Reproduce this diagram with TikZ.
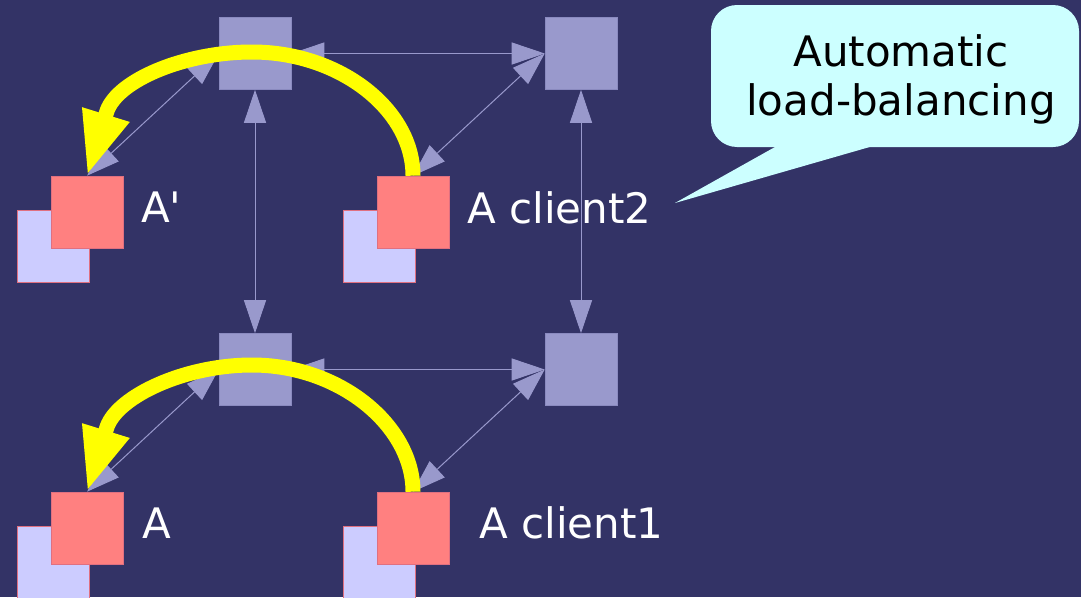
\documentclass[tikz,border=0pt]{standalone}
\usepackage{fontspec}
\newfontfamily\labelfont{DejaVu Sans}
\usetikzlibrary{arrows.meta}

\definecolor{slide}{HTML}{333366}
\definecolor{gridgrey}{HTML}{9999CC}
\definecolor{gridedge}{HTML}{8A8ABF}
\definecolor{replicared}{HTML}{FF8080}
\definecolor{replicaedge}{HTML}{E07080}
\definecolor{shadowlav}{HTML}{CCCCFF}
\definecolor{calloutcyan}{HTML}{CCFFFF}
\definecolor{moveyellow}{HTML}{FFFF00}

\begin{document}
\begin{tikzpicture}[x=1pt,y=-1pt,
  server/.style={rectangle, fill=gridgrey, draw=gridedge, line width=0.6pt,
                 minimum size=72pt, inner sep=0pt},
  replica/.style={rectangle, fill=replicared, draw=replicaedge, line width=0.6pt,
                  minimum size=72pt, inner sep=0pt},
  backup/.style={rectangle, fill=shadowlav, draw=replicaedge, line width=0.6pt,
                 minimum size=72pt, inner sep=0pt},
  link/.style={draw=gridgrey, line width=1pt,
               {Triangle[length=33pt,width=22pt]}-{Triangle[length=33pt,width=22pt]}},
  migrate/.style={draw=moveyellow, line width=15pt,
                  -{Triangle[length=64pt,width=45pt]}},
  nametext/.style={text=white, font=\labelfont\fontsize{42}{49}\selectfont,
                   anchor=base west, inner sep=0pt}]

% slide background
\fill[slide] (0,0) rectangle (1081,597);
\useasboundingbox (0,0) rectangle (1081,597);

% backup copies behind each replica
\node[backup] (b1) at (53.5,246) {};
\node[backup] (b2) at (379,246) {};
\node[backup] (b3) at (53.5,562) {};
\node[backup] (b4) at (379,562) {};

% replicas
\node[replica] (r1) at (87,212) {};
\node[replica] (r2) at (413,212) {};
\node[replica] (r3) at (87,528) {};
\node[replica] (r4) at (413,528) {};

% grid of servers
\node[server] (g1) at (255,53.5) {};
\node[server] (g2) at (581,53.5) {};
\node[server] (g3) at (255,369.5) {};
\node[server] (g4) at (581,369.5) {};

% links between servers
\draw[link] (g1.east) -- (g2.west);
\draw[link] (g1.south) -- (g3.north);
\draw[link] (g2.south) -- (g4.north);
\draw[link] (g3.east) -- (g4.west);

% links from servers to replicas
\draw[link] (g1.west) -- (r1.north);
\draw[link] (g2.west) -- (r2.north);
\draw[link] (g3.west) -- (r3.north);
\draw[link] (g4.west) -- (r4.north);

% migration arcs
\draw[migrate] (r2.north) .. controls +(0,-66) and (340,52) .. (252,52)
  .. controls (185,52) and (118,80) .. (107,111) -- (r1.north);
\draw[migrate] (r4.north) .. controls +(0,-66) and (340,365) .. (252,365)
  .. controls (185,365) and (118,396) .. (107,427) -- (r3.north);

% replica names
\node[nametext] (t1) at (141,222) {A'};
\node[nametext] (t2) at (467,223) {A client2};
\node[nametext] (t3) at (142,538) {A};
\node[nametext] (t4) at (479,538) {A client1};

% speech bubble
\node[fill=calloutcyan, rounded corners=26pt, minimum width=368pt,
      minimum height=142pt, inner sep=0pt] (bubble) at (895,76) {};
\fill[calloutcyan] (787.5,140) -- (675,203) -- (894,140) -- cycle;
\node[text=black, font=\labelfont\fontsize{42}{49}\selectfont, align=center,
      inner sep=0pt] (bubbletext) at (901,79.5) {Automatic\\load-balancing};
\end{tikzpicture}
\end{document}
